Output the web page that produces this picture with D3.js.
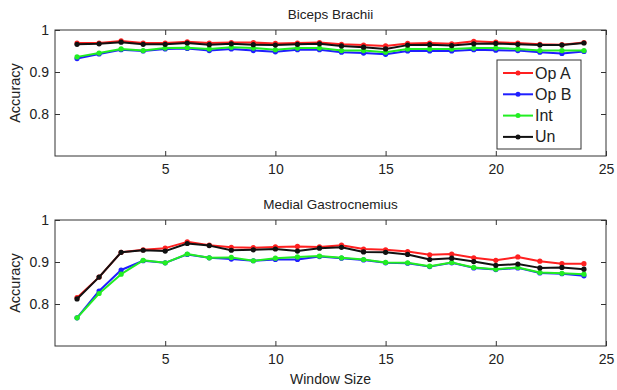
<!DOCTYPE html>
<html><head><meta charset="utf-8">
<script src="https://cdn.jsdelivr.net/npm/d3@7"></script>
<style>body{margin:0;background:#fff}svg{display:block}text{font-family:"Liberation Sans",Arial,sans-serif;fill:#222}</style>
</head><body>
<script>
const windowSizes = d3.range(1, 25);
const seriesNames = ["Op A", "Op B", "Int", "Un"];
const seriesColors = ["#ff2020", "#1f1fff", "#22ee22", "#111111"];
const xTicks = [5, 10, 15, 20, 25];
const yTicks = [0.8, 0.9, 1];

// Biceps Brachii
const bicepsOpA = [0.969,0.969,0.974,0.969,0.969,0.972,0.969,0.970,0.970,0.968,0.969,0.970,0.966,0.964,0.962,0.968,0.969,0.967,0.973,0.971,0.969,0.966,0.965,0.970];
const bicepsOpB = [0.932,0.943,0.953,0.950,0.955,0.956,0.951,0.955,0.951,0.948,0.953,0.953,0.947,0.945,0.942,0.950,0.950,0.950,0.953,0.952,0.951,0.947,0.944,0.949];
const bicepsInt = [0.936,0.945,0.955,0.951,0.957,0.958,0.955,0.959,0.957,0.953,0.957,0.957,0.951,0.951,0.947,0.955,0.955,0.955,0.957,0.957,0.955,0.951,0.951,0.951];
const bicepsUn  = [0.966,0.967,0.971,0.966,0.966,0.969,0.965,0.967,0.965,0.964,0.966,0.967,0.962,0.959,0.955,0.964,0.965,0.963,0.967,0.968,0.966,0.964,0.964,0.969];

// Medial Gastrocnemius
const gastroOpA = [0.815,0.864,0.923,0.929,0.933,0.948,0.940,0.935,0.934,0.936,0.937,0.936,0.940,0.931,0.929,0.925,0.917,0.919,0.910,0.904,0.912,0.902,0.896,0.896];
const gastroOpB = [0.767,0.831,0.881,0.903,0.898,0.918,0.910,0.907,0.903,0.906,0.906,0.913,0.909,0.905,0.898,0.897,0.889,0.898,0.886,0.882,0.886,0.874,0.872,0.867];
const gastroInt = [0.767,0.825,0.871,0.904,0.898,0.919,0.910,0.911,0.903,0.909,0.912,0.914,0.910,0.906,0.899,0.898,0.890,0.899,0.887,0.883,0.887,0.875,0.873,0.871];
const gastroUn  = [0.812,0.864,0.923,0.928,0.926,0.944,0.939,0.928,0.929,0.931,0.926,0.933,0.935,0.924,0.923,0.918,0.906,0.909,0.901,0.892,0.895,0.886,0.887,0.883];

const panels = [
  {title: "Biceps Brachii", top: 30, series: [bicepsOpA, bicepsOpB, bicepsInt, bicepsUn], legend: true, xlabel: false},
  {title: "Medial Gastrocnemius", top: 220, series: [gastroOpA, gastroOpB, gastroInt, gastroUn], legend: false, xlabel: true}
];

const W = 617, H = 390;
const left = 55, right = 606, ph = 126;
const FONT = "Liberation Sans, Arial, sans-serif";
const svg = d3.select("body").append("svg").attr("width", W).attr("height", H);
const x = d3.scaleLinear().domain([0, 25]).range([left, right]);

panels.forEach(p => {
  const y = d3.scaleLinear().domain([0.7, 1]).range([p.top + ph, p.top]);
  const g = svg.append("g");
  g.append("rect").attr("x", left).attr("y", p.top).attr("width", right - left).attr("height", ph)
    .attr("fill", "#fff").attr("stroke", "#333").attr("stroke-width", 1);

  const ax = g.append("g").attr("transform", `translate(0,${p.top + ph})`)
    .call(d3.axisBottom(x).tickValues(xTicks).tickSize(-5).tickPadding(8).tickFormat(d3.format("d")));
  ax.select(".domain").remove();
  ax.selectAll("line").attr("stroke", "#333");
  ax.selectAll("text").attr("font-size", 14).attr("font-family", FONT).attr("fill", "#222");
  const axT = g.append("g").attr("transform", `translate(0,${p.top})`)
    .call(d3.axisTop(x).tickValues(xTicks).tickSize(-5).tickFormat(""));
  axT.select(".domain").remove(); axT.selectAll("line").attr("stroke", "#333");

  const ay = g.append("g").attr("transform", `translate(${left},0)`)
    .call(d3.axisLeft(y).tickValues(yTicks).tickSize(-5).tickPadding(6).tickFormat(d => d === 1 ? "1" : d3.format(".1f")(d)));
  ay.select(".domain").remove();
  ay.selectAll("line").attr("stroke", "#333");
  ay.selectAll("text").attr("font-size", 14).attr("font-family", FONT).attr("fill", "#222");
  const ayR = g.append("g").attr("transform", `translate(${right},0)`)
    .call(d3.axisRight(y).tickValues(yTicks).tickSize(-5).tickFormat(""));
  ayR.select(".domain").remove(); ayR.selectAll("line").attr("stroke", "#333");

  g.append("text").attr("x", (left + right) / 2).attr("y", p.top - 11).attr("text-anchor", "middle")
    .attr("font-size", 13.5).text(p.title);
  g.append("text").attr("transform", `translate(20,${p.top + ph / 2}) rotate(-90)`).attr("text-anchor", "middle")
    .attr("font-size", 14.5).text("Accuracy");

  const line = d3.line().x((d, i) => x(windowSizes[i])).y(d => y(d));
  p.series.forEach((s, k) => {
    g.append("path").datum(s).attr("d", line).attr("fill", "none")
      .attr("stroke", seriesColors[k]).attr("stroke-width", 2).attr("stroke-linejoin", "round");
    g.selectAll(null).data(s).enter().append("circle")
      .attr("cx", (d, i) => x(windowSizes[i])).attr("cy", d => y(d)).attr("r", 2.6)
      .attr("fill", seriesColors[k]);
  });

  if (p.legend) {
    const lg = g.append("g");
    lg.append("rect").attr("x", 497).attr("y", 60).attr("width", 84).attr("height", 89)
      .attr("fill", "#fff").attr("stroke", "#333").attr("stroke-width", 1);
    seriesNames.forEach((n, k) => {
      const yy = 60 + 13 + k * 21.3;
      lg.append("line").attr("x1", 503).attr("x2", 533).attr("y1", yy).attr("y2", yy)
        .attr("stroke", seriesColors[k]).attr("stroke-width", 2);
      lg.append("circle").attr("cx", 518).attr("cy", yy).attr("r", 2.5).attr("fill", seriesColors[k]);
      lg.append("text").attr("x", 535).attr("y", yy + 5.5).attr("font-size", 16).text(n);
    });
  }
  if (p.xlabel) {
    g.append("text").attr("x", (left + right) / 2).attr("y", 384).attr("text-anchor", "middle")
      .attr("font-size", 14).text("Window Size");
  }
});
</script>
</body></html>
